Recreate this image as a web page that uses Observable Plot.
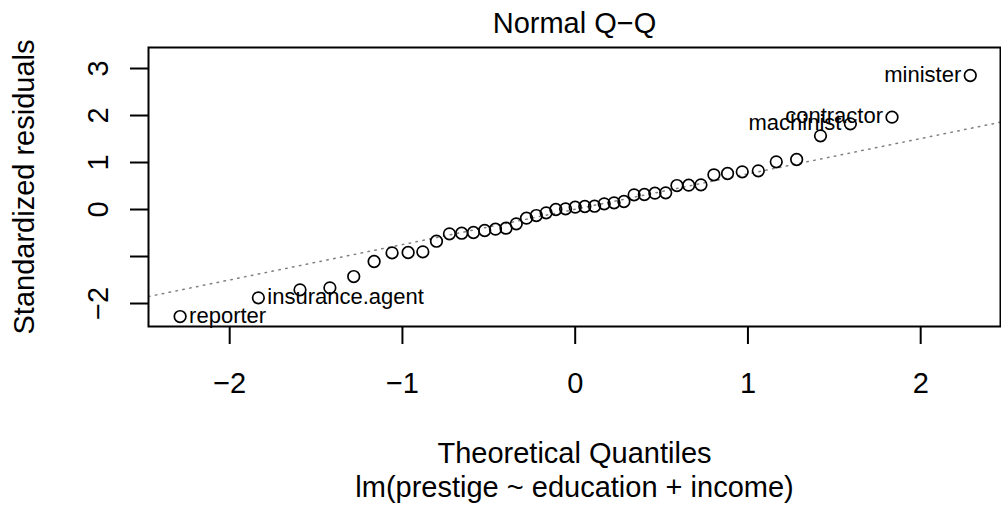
<!DOCTYPE html>
<html>
<head>
<meta charset="utf-8">
<script src="https://cdn.jsdelivr.net/npm/d3@7"></script>
<script src="https://cdn.jsdelivr.net/npm/@observablehq/plot@0.6"></script>
<style>
  html, body { margin: 0; padding: 0; background: #fff; }
  svg { display: block; }
</style>
</head>
<body>
<div id="chart"></div>
<script>
// Theoretical normal quantiles (n = 45)
const theoretical = [
  -2.287, -1.834, -1.593, -1.420, -1.282, -1.164, -1.060, -0.967, -0.882, -0.803,
  -0.728, -0.657, -0.589, -0.524, -0.4615, -0.4005, -0.341, -0.282, -0.225, -0.168,
  -0.112, -0.0557, 0,
  0.0557, 0.112, 0.168, 0.225, 0.282, 0.341, 0.4005, 0.4615, 0.524, 0.589,
  0.657, 0.728, 0.803, 0.882, 0.967, 1.060, 1.164, 1.282, 1.420, 1.593, 1.834, 2.287
];
// Sorted standardized residuals
const residuals = [
  -2.277, -1.879, -1.709, -1.667, -1.426, -1.106, -0.922, -0.915, -0.901, -0.674,
  -0.518, -0.504, -0.489, -0.447, -0.418, -0.397, -0.305, -0.184, -0.128, -0.071,
  0.000, 0.014, 0.050,
  0.064, 0.071, 0.120, 0.142, 0.170, 0.312, 0.319, 0.348, 0.355, 0.510,
  0.518, 0.525, 0.738, 0.766, 0.801, 0.823, 1.014, 1.064, 1.567, 1.823, 1.965, 2.851
];
// Identified points (index in sorted order)
const idNames = ["reporter", "insurance.agent", "machinist", "contractor", "minister"];
const idRanks = [0, 1, 42, 43, 44];
// Reference (qq) line
const qqIntercept = 0.006;
const qqSlope = 0.752;
// Axes
const xTicks = [-2, -1, 0, 1, 2];
const yTicks = [-2, -1, 0, 1, 2, 3];
const yTickLabels = [-2, 0, 1, 2, 3];
const xDomain = [-2.47, 2.462];
const yDomain = [-2.489, 3.447];
const titleText = "Normal Q\u2212Q";
const xLabel = "Theoretical Quantiles";
const yLabel = "Standardized residuals";
const captionText = "lm(prestige ~ education + income)";

const pts = theoretical.map((x, i) => ({x, y: residuals[i]}));
const ids = idNames.map((name, k) => ({name, x: theoretical[idRanks[k]], y: residuals[idRanks[k]]}));
const lineData = xDomain.map(x => ({x, y: qqIntercept + qqSlope * x}));
const fmt = d => String(d).replace("-", "\u2212");
const F = 29;

const chart = Plot.plot({
  width: 1001,
  height: 506,
  marginLeft: 148,
  marginRight: 1,
  marginTop: 47,
  marginBottom: 180,
  style: {fontFamily: "'Liberation Sans', Arial, sans-serif", fontSize: F + "px", background: "#fff", color: "#000"},
  x: {domain: xDomain},
  y: {domain: yDomain},
  marks: [
    Plot.line(lineData, {x: "x", y: "y", stroke: "#808080", strokeWidth: 1.5, strokeDasharray: "1.5,5.5", clip: true}),
    Plot.dot(pts, {x: "x", y: "y", r: 5.8, stroke: "#000", strokeWidth: 1.7, fill: "none"}),
    Plot.text(ids.filter(d => d.x < 0), {x: "x", y: "y", text: "name", textAnchor: "start", lineAnchor: "bottom", dx: 9, dy: 6, fontSize: 22, fill: "#000"}),
    Plot.text(ids.filter(d => d.x > 0), {x: "x", y: "y", text: "name", textAnchor: "end", lineAnchor: "bottom", dx: -9, dy: 6, fontSize: 22, fill: "#000"}),
    Plot.frame({stroke: "#000", strokeWidth: 2}),
    Plot.axisX(xTicks, {tickSize: 18, strokeWidth: 2, tickFormat: () => "", label: null}),
    Plot.axisY(yTicks, {tickSize: 18, strokeWidth: 2, tickFormat: () => "", label: null}),
    Plot.text(xTicks, {x: d => d, text: fmt, frameAnchor: "bottom", lineAnchor: "bottom", dy: 66, fontSize: F, fill: "#000"}),
    Plot.text(yTickLabels, {y: d => d, text: fmt, frameAnchor: "left", rotate: -90, textAnchor: "middle", lineAnchor: "bottom", dx: -41, fontSize: F, fill: "#000"}),
    Plot.text([titleText], {text: d => d, frameAnchor: "top", lineAnchor: "bottom", dy: -15, fontSize: F, fill: "#000"}),
    Plot.text([xLabel], {text: d => d, frameAnchor: "bottom", lineAnchor: "bottom", dy: 136, fontSize: F, fill: "#000"}),
    Plot.text([captionText], {text: d => d, frameAnchor: "bottom", lineAnchor: "bottom", dy: 170, fontSize: F, fill: "#000"}),
    Plot.text([yLabel], {text: d => d, frameAnchor: "left", rotate: -90, textAnchor: "middle", lineAnchor: "bottom", dx: -115, fontSize: F, fill: "#000"})
  ]
});
document.getElementById("chart").appendChild(chart);
</script>
</body>
</html>
